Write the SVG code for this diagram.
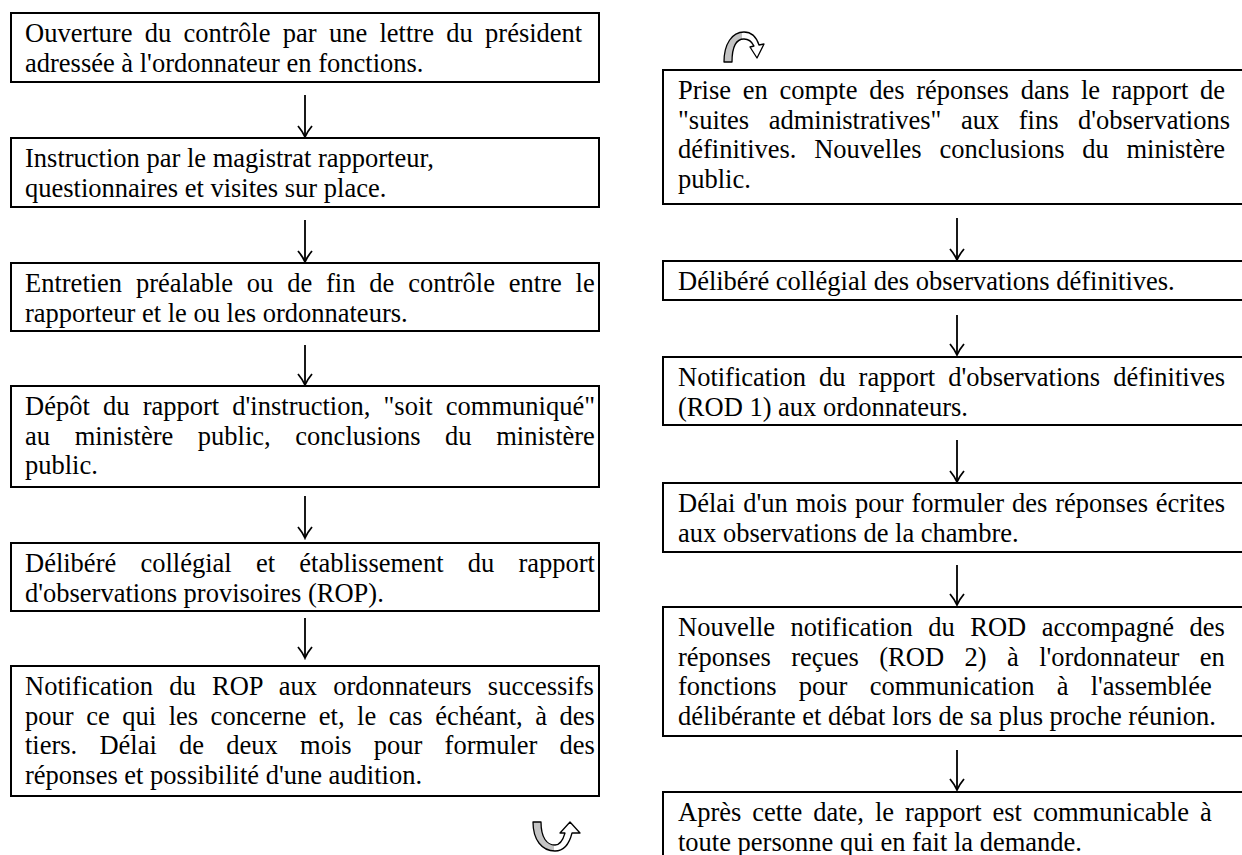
<svg xmlns="http://www.w3.org/2000/svg" width="1242" height="855" viewBox="0 0 1242 855">
<style>
.box{fill:#fff;stroke:#000;stroke-width:2}
.t{font-family:"Liberation Serif","Times New Roman",serif;font-size:26.5px;fill:#000}
.arr{stroke:#000;stroke-width:1.8;fill:none}
.icon{fill:url(#half);stroke:#000;stroke-width:1.3;stroke-linejoin:round}
</style>
<defs>
<marker id="ah" viewBox="-13 -9 15 18" refX="0" refY="0" markerWidth="15" markerHeight="18" markerUnits="userSpaceOnUse" orient="auto">
<path d="M-11,-7 Q-5,-2 0,0 Q-5,2 -11,7" fill="none" stroke="#000" stroke-width="1.8"/>
</marker>
<linearGradient id="half" x1="0" y1="0" x2="1" y2="0">
<stop offset="0" stop-color="#c4c4c4"/><stop offset="0.45" stop-color="#c4c4c4"/><stop offset="0.45" stop-color="#fff"/><stop offset="1" stop-color="#fff"/>
</linearGradient>
</defs>
<rect width="1242" height="855" fill="#fff"/>

<g id="b1"><rect class="box" x="11" y="13" width="588" height="69"/>
<text class="t" x="25" y="42" word-spacing="5.7">Ouverture du contrôle par une lettre du président</text>
<text class="t" x="25" y="71.5">adressée à l'ordonnateur en fonctions.</text></g>

<g id="b2"><rect class="box" x="11" y="138" width="588" height="69"/>
<text class="t" x="25" y="167">Instruction par le magistrat rapporteur,</text>
<text class="t" x="25" y="196.5">questionnaires et visites sur place.</text></g>

<g id="b3"><rect class="box" x="11" y="263" width="588" height="68"/>
<text class="t" x="25" y="292" word-spacing="7.2">Entretien préalable ou de fin de contrôle entre le</text>
<text class="t" x="25" y="321.5">rapporteur et le ou les ordonnateurs.</text></g>

<g id="b4"><rect class="box" x="11" y="386" width="588" height="101"/>
<text class="t" x="25" y="415" word-spacing="6.56">Dépôt du rapport d'instruction, "soit communiqué"</text>
<text class="t" x="25" y="444.5" word-spacing="18">au ministère public, conclusions du ministère</text>
<text class="t" x="25" y="474">public.</text></g>

<g id="b5"><rect class="box" x="11" y="543" width="588" height="68"/>
<text class="t" x="25" y="572" word-spacing="17.6">Délibéré collégial et établissement du rapport</text>
<text class="t" x="25" y="601.5">d'observations provisoires (ROP).</text></g>

<g id="b6"><rect class="box" x="11" y="666" width="588" height="130"/>
<text class="t" x="25" y="695" word-spacing="9.6">Notification du ROP aux ordonnateurs successifs</text>
<text class="t" x="25" y="724.5" word-spacing="5.93">pour ce qui les concerne et, le cas échéant, à des</text>
<text class="t" x="25" y="754" word-spacing="15.6">tiers. Délai de deux mois pour formuler des</text>
<text class="t" x="25" y="783.5">réponses et possibilité d'une audition.</text></g>

<g id="r1"><rect class="box" x="663" y="70" width="581" height="134"/>
<text class="t" x="678" y="99" word-spacing="5.09">Prise en compte des réponses dans le rapport de</text>
<text class="t" x="678" y="128.5" word-spacing="12.9">"suites administratives" aux fins d'observations</text>
<text class="t" x="678" y="158" word-spacing="11.1">définitives. Nouvelles conclusions du ministère</text>
<text class="t" x="678" y="187.5">public.</text></g>

<g id="r2"><rect class="box" x="663" y="261" width="581" height="39"/>
<text class="t" x="678" y="290">Délibéré collégial des observations définitives.</text></g>

<g id="r3"><rect class="box" x="663" y="357" width="581" height="68"/>
<text class="t" x="678" y="386" word-spacing="6.4">Notification du rapport d'observations définitives</text>
<text class="t" x="678" y="415.5">(ROD 1) aux ordonnateurs.</text></g>

<g id="r4"><rect class="box" x="663" y="483" width="581" height="69"/>
<text class="t" x="678" y="512" word-spacing="1.24">Délai d'un mois pour formuler des réponses écrites</text>
<text class="t" x="678" y="541.5">aux observations de la chambre.</text></g>

<g id="r5"><rect class="box" x="663" y="607" width="581" height="129"/>
<text class="t" x="678" y="636" word-spacing="8.86">Nouvelle notification du ROD accompagné des</text>
<text class="t" x="678" y="665.5" word-spacing="13.8">réponses reçues (ROD 2) à l'ordonnateur en</text>
<text class="t" x="678" y="695" word-spacing="15.6">fonctions pour communication à l'assemblée</text>
<text class="t" x="678" y="724.5">délibérante et débat lors de sa plus proche réunion.</text></g>

<g id="r6"><rect class="box" x="663" y="792" width="581" height="80"/>
<text class="t" x="678" y="821" word-spacing="4.34">Après cette date, le rapport est communicable à</text>
<text class="t" x="678" y="850.5">toute personne qui en fait la demande.</text></g>

<g id="connectors">
<line class="arr" x1="305" y1="95" x2="305" y2="137" marker-end="url(#ah)"/>
<line class="arr" x1="305" y1="220" x2="305" y2="262" marker-end="url(#ah)"/>
<line class="arr" x1="305" y1="345" x2="305" y2="385" marker-end="url(#ah)"/>
<line class="arr" x1="305" y1="496" x2="305" y2="538" marker-end="url(#ah)"/>
<line class="arr" x1="305" y1="618" x2="305" y2="658" marker-end="url(#ah)"/>
<line class="arr" x1="957" y1="218" x2="957" y2="260" marker-end="url(#ah)"/>
<line class="arr" x1="957" y1="315" x2="957" y2="355" marker-end="url(#ah)"/>
<line class="arr" x1="957" y1="440" x2="957" y2="482" marker-end="url(#ah)"/>
<line class="arr" x1="957" y1="565" x2="957" y2="605" marker-end="url(#ah)"/>
<line class="arr" x1="957" y1="750" x2="957" y2="790" marker-end="url(#ah)"/>
</g>

<g id="turn-bottom">
<path class="icon" d="M533,822 L541,822 C541,838 547,845 555,845 C560,845 563,840 565,833 L560,833 L570,822 L580,833 L572,833 C569,845 563,851 555,851 C542,851 533,840 533,822 Z"/>
</g>
<g id="turn-top">
<path class="icon" d="M724,62 L732,62 C732,46 737,39 744,39 C749,39 752,42 754,46 L750,47 L757,58 L764,44 L759,45 C756,36 751,32 744,32 C732,32 724,44 724,62 Z"/>
</g>
</svg>
